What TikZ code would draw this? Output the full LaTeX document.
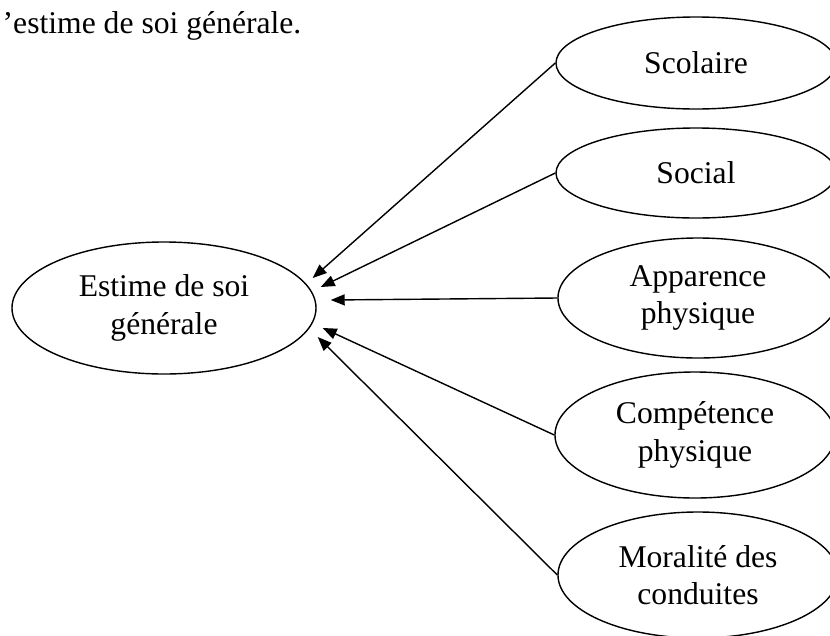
\documentclass[tikz,border=0pt]{standalone}
\usepackage{fontspec}
\setmainfont{Liberation Serif}
\usetikzlibrary{shapes.geometric,arrows.meta}
\begin{document}
\begin{tikzpicture}[x=0.03cm,y=-0.03cm,line width=1.2pt,
    every node/.style={font=\fontsize{27}{32}\selectfont},
    bubble/.style={ellipse,draw,inner sep=0pt,align=center,minimum width=8.4cm},
    feed/.style={-{Triangle[length=0.42cm,width=0.33cm]}}]
      \useasboundingbox (0,0) rectangle (830,635);
      \node[anchor=base west,inner sep=0pt] (h) at (2,33) {’estime de soi générale.};
      \draw
        (164,308) node[bubble,minimum width=9.12cm,minimum height=3.96cm] (0){Estime de soi\\générale}
        (696,63) node[bubble,minimum height=2.76cm] (1){Scolaire}
        (696,173) node[bubble,minimum height=2.7cm] (2){Social}
        (698,298) node[bubble,minimum height=3.6cm] (3){Apparence\\physique}
        (695,435) node[bubble,minimum height=3.78cm] (4){Compétence\\physique}
        (698,575) node[bubble,minimum height=3.78cm] (5){Moralité des\\conduites};
      \begin{scope}[feed]
        \draw (1.west) to ([shift={(-4,-30)}]0.east);
        \draw (2.west) to ([shift={(4,-21)}]0.east);
        \draw (3.west) to ([shift={(14,-8)}]0.east);
        \draw (4.west) to ([shift={(6,20)}]0.east);
        \draw (5.west) to ([shift={(1,29)}]0.east);
      \end{scope}
    \end{tikzpicture}
\end{document}
